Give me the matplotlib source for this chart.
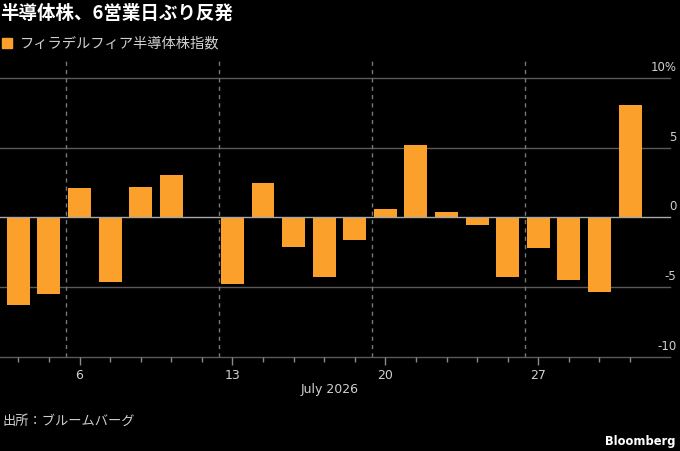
import numpy as np
import matplotlib
matplotlib.use("Agg")
import matplotlib.pyplot as plt
from matplotlib.patches import Rectangle

plt.rcParams['font.family'] = ['Noto Sans CJK JP', 'DejaVu Sans']

# trading days, July 2026 (Jul 3 market holiday)
days = [1, 2, 6, 7, 8, 9, 10, 13, 14, 15, 16, 17, 20, 21, 22, 23, 24, 27, 28, 29, 30]
pct_change = [-6.3, -5.5, 2.1, -4.65, 2.2, 3.05, 0.05, -4.8, 2.5, -2.1, -4.3, -1.65,
              0.6, 5.2, 0.4, -0.55, -4.25, -2.2, -4.5, -5.35, 8.05]
yticks = [-10, -5, 0, 5, 10]
ytick_labels = ['-10', '-5', '0', '5', '10%']
xlabel_days = [6, 13, 20, 27]

title = '半導体株、6営業日ぶり反発'
series_name = 'フィラデルフィア半導体株指数'
source = '出所：ブルームバーグ'

BG = 'black'
ORANGE = '#FBA02B'
GRID = '#5a5a5a'
TXT = '#d0d0d0'

fig = plt.figure(figsize=(6.8, 4.51), dpi=100, facecolor=BG)
ax = fig.add_axes([0.0, 0.209, 0.985, 0.658], facecolor=BG)

x = np.arange(len(days))
ax.bar(x, pct_change, width=0.75, color=ORANGE, zorder=3)

ax.set_xlim(-0.6, len(days) + 0.3)
ax.set_ylim(-10, 11.3)

# horizontal grid + labels sitting above the lines at right
for v, lab in zip(yticks, ytick_labels):
    ax.axhline(v, color='#a8a8a8' if v == 0 else GRID, lw=1,
               zorder=4 if v == 0 else 1, clip_on=False)
    ax.annotate(lab, xy=(1.01, v), xycoords=ax.get_yaxis_transform(),
                xytext=(0, 3), textcoords='offset points',
                ha='right', va='bottom', color=TXT, fontsize=8.5,
                family='DejaVu Sans')

# week separators
for i in range(1, len(days)):
    if days[i] - days[i - 1] > 1:
        ax.axvline(i - 0.45, color='#777777', lw=1, ls=(0, (3, 3)), zorder=2)

for s in ax.spines.values():
    s.set_visible(False)
ax.set_yticks([])

major_idx = [days.index(d) for d in xlabel_days]
ax.set_xticks(major_idx)
ax.set_xticklabels([str(d) for d in xlabel_days], family='DejaVu Sans')
ax.set_xticks(x, minor=True)
ax.tick_params(axis='x', which='major', length=5.5, width=1, color='#8a8a8a',
               labelcolor=TXT, labelsize=9, pad=3)
ax.tick_params(axis='x', which='minor', length=3.6, width=1, color='#8a8a8a')

fig.text(330 / 680, 1 - 390 / 451, 'July 2026', ha='center', va='center',
         color=TXT, fontsize=9, family='DejaVu Sans')

fig.text(0.0, 1 - 13 / 451, title, ha='left', va='center', color='white',
         fontsize=13.3, fontweight='bold')
fig.patches.append(Rectangle((2 / 680, 1 - 48 / 451), 10 / 680, 10 / 451,
                             transform=fig.transFigure, color=ORANGE))
fig.text(20 / 680, 1 - 43 / 451, series_name, ha='left', va='center',
         color=TXT, fontsize=10.3)
fig.text(2 / 680, 1 - 421 / 451, source, ha='left', va='center',
         color=TXT, fontsize=9.5)
fig.text(675 / 680, 1 - 441 / 451, 'Bloomberg', ha='right', va='center',
         color='white', fontsize=8.3, fontweight='bold', family='DejaVu Sans')

fig.savefig('out.png', dpi=100, facecolor=BG)
